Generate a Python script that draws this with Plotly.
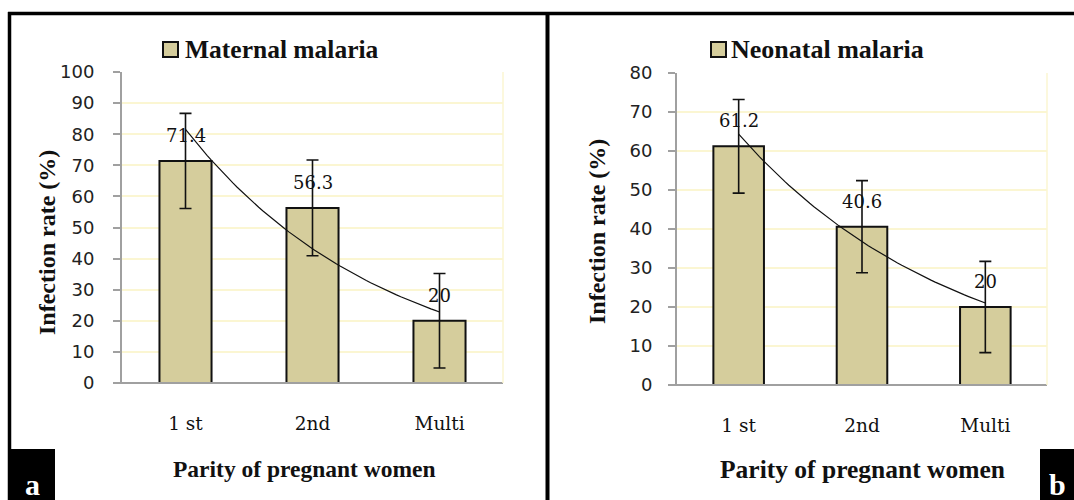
import numpy as np
import plotly.graph_objects as go

# Parity groups and infection rates (%)
categories = ["1 st", "2nd", "Multi"]
maternal_rate = [71.4, 56.3, 20]
maternal_err = [15.3, 15.4, 15.2]
neonatal_rate = [61.2, 40.6, 20]
neonatal_err = [12.0, 11.8, 11.7]
maternal_ticks = [0, 10, 20, 30, 40, 50, 60, 70, 80, 90, 100]
neonatal_ticks = [0, 10, 20, 30, 40, 50, 60, 70, 80]

W, H = 1074, 500
BAR = "#D5CD9C"
GRID = "#FBF6D2"
SERIF = "Liberation Serif"
WIDE_SERIF = "DejaVu Serif"
SANS = "DejaVu Sans"


def px(x):
    return x / W


def py(y):
    return 1 - y / H


xpos = [1, 2, 3]
fig = go.Figure()


def exp_trend(vals):
    # Exponential least-squares trend (fit on log values)
    b, a = np.polyfit(xpos, np.log(vals), 1)
    xs = np.linspace(1, 3, 60)
    return xs, np.exp(a + b * xs)


panels = [
    ("x", "y", maternal_rate, maternal_err, "Maternal malaria"),
    ("x2", "y2", neonatal_rate, neonatal_err, "Neonatal malaria"),
]

for xa, ya, vals, errs, name in panels:
    fig.add_trace(go.Bar(
        x=xpos, y=vals, width=0.41, xaxis=xa, yaxis=ya,
        marker=dict(color=BAR, line=dict(color="#111", width=2)),
        error_y=dict(type="data", array=errs, visible=True,
                     color="#111", thickness=1.6, width=6),
        showlegend=False, name=name,
    ))
    tx, ty = exp_trend(vals)
    fig.add_trace(go.Scatter(
        x=tx, y=ty, mode="lines", xaxis=xa, yaxis=ya,
        line=dict(color="#111", width=1.2), showlegend=False,
    ))
    for xv, v in zip(xpos, vals):
        fig.add_annotation(
            x=xv, y=v, xref=xa, yref=ya, text=f"{v:g}", showarrow=False,
            yanchor="bottom", yshift=13,
            font=dict(family=WIDE_SERIF, size=18, color="#111"),
        )

axis_common = dict(
    range=[0.5, 3.5], tickvals=xpos, ticktext=categories,
    showgrid=False, zeroline=False, showline=False, ticks="",
    tickfont=dict(family=WIDE_SERIF, size=18.5, color="#111"),
    ticklabelstandoff=27, fixedrange=True, automargin=False,
)
yaxis_common = dict(
    showgrid=True, gridcolor=GRID, gridwidth=1.5, zeroline=False,
    showline=True, linecolor="#A0A0A0", linewidth=2,
    ticks="outside", ticklen=7, tickcolor="#A0A0A0", tickwidth=1.5,
    tickfont=dict(family=SANS, size=18, color="#222"),
    fixedrange=True, automargin=False,
)

fig.update_layout(
    width=W, height=H, autosize=False,
    margin=dict(l=0, r=0, t=0, b=0, pad=0),
    paper_bgcolor="white", plot_bgcolor="white",
    xaxis=dict(domain=[px(122), px(503)], anchor="y", **axis_common),
    yaxis=dict(domain=[py(383), py(72)], anchor="x", range=[0, 100],
               tickvals=maternal_ticks, ticklabelstandoff=15, **yaxis_common),
    xaxis2=dict(domain=[px(677), px(1047)], anchor="y2", **axis_common),
    yaxis2=dict(domain=[py(385), py(73)], anchor="x2", range=[0, 80],
                tickvals=neonatal_ticks, ticklabelstandoff=12, **yaxis_common),
)

shapes = []
# x-axis baselines and right plot edges
for x0, x1, y0, y1 in [(115, 503, 383, 72), (670, 1047, 385, 73)]:
    shapes.append(dict(type="line", xref="paper", yref="paper",
                       x0=px(x0), x1=px(x1), y0=py(y0), y1=py(y0),
                       line=dict(color="#A0A0A0", width=2)))
    shapes.append(dict(type="line", xref="paper", yref="paper",
                       x0=px(x1), x1=px(x1), y0=py(y0), y1=py(y1),
                       line=dict(color=GRID, width=1.5)))

# panel frames
frame = dict(color="#000", width=3.5)
shapes += [
    dict(type="line", xref="paper", yref="paper", x0=px(8), x1=px(1074),
         y0=py(13.5), y1=py(13.5), line=frame),
    dict(type="line", xref="paper", yref="paper", x0=px(9.5), x1=px(9.5),
         y0=py(12), y1=py(500), line=frame),
    dict(type="line", xref="paper", yref="paper", x0=px(547.5), x1=px(547.5),
         y0=py(12), y1=py(500), line=dict(color="#000", width=4)),
]

# panel letter boxes
shapes += [
    dict(type="rect", xref="paper", yref="paper", x0=px(8), x1=px(55),
         y0=py(500), y1=py(449), fillcolor="#000", line=dict(width=0)),
    dict(type="rect", xref="paper", yref="paper", x0=px(1040), x1=px(1074),
         y0=py(500), y1=py(449), fillcolor="#000", line=dict(width=0)),
]

# legend swatches
for x0 in [163, 711]:
    shapes.append(dict(type="rect", xref="paper", yref="paper",
                       x0=px(x0), x1=px(x0 + 15), y0=py(57), y1=py(42),
                       fillcolor=BAR, line=dict(color="#111", width=2)))
fig.update_layout(shapes=shapes)


def bold_serif(size):
    return dict(family=SERIF, size=size, color="#111", weight="bold")


texts = [
    (183, 50, "Maternal malaria", "left", 0, 25.5),
    (729, 50, "Neonatal malaria", "left", 0, 26),
    (304, 469, "Parity of pregnant women", "center", 0, 23.5),
    (862, 469, "Parity of pregnant women", "center", 0, 25.5),
    (47, 243, "Infection rate (%)", "center", -90, 24),
    (597, 232, "Infection rate (%)", "center", -90, 24),
]
for x, y, t, xa, ang, sz in texts:
    fig.add_annotation(x=px(x), y=py(y), xref="paper", yref="paper", text=t,
                       showarrow=False, xanchor=xa, yanchor="middle",
                       textangle=ang, font=bold_serif(sz))

for x, t in [(32, "a"), (1057, "b")]:
    fig.add_annotation(x=px(x), y=py(484), xref="paper", yref="paper", text=t,
                       showarrow=False, xanchor="center", yanchor="middle",
                       font=dict(family=SERIF, size=30, color="white",
                                 weight="bold"))

fig.write_html("out.html")
